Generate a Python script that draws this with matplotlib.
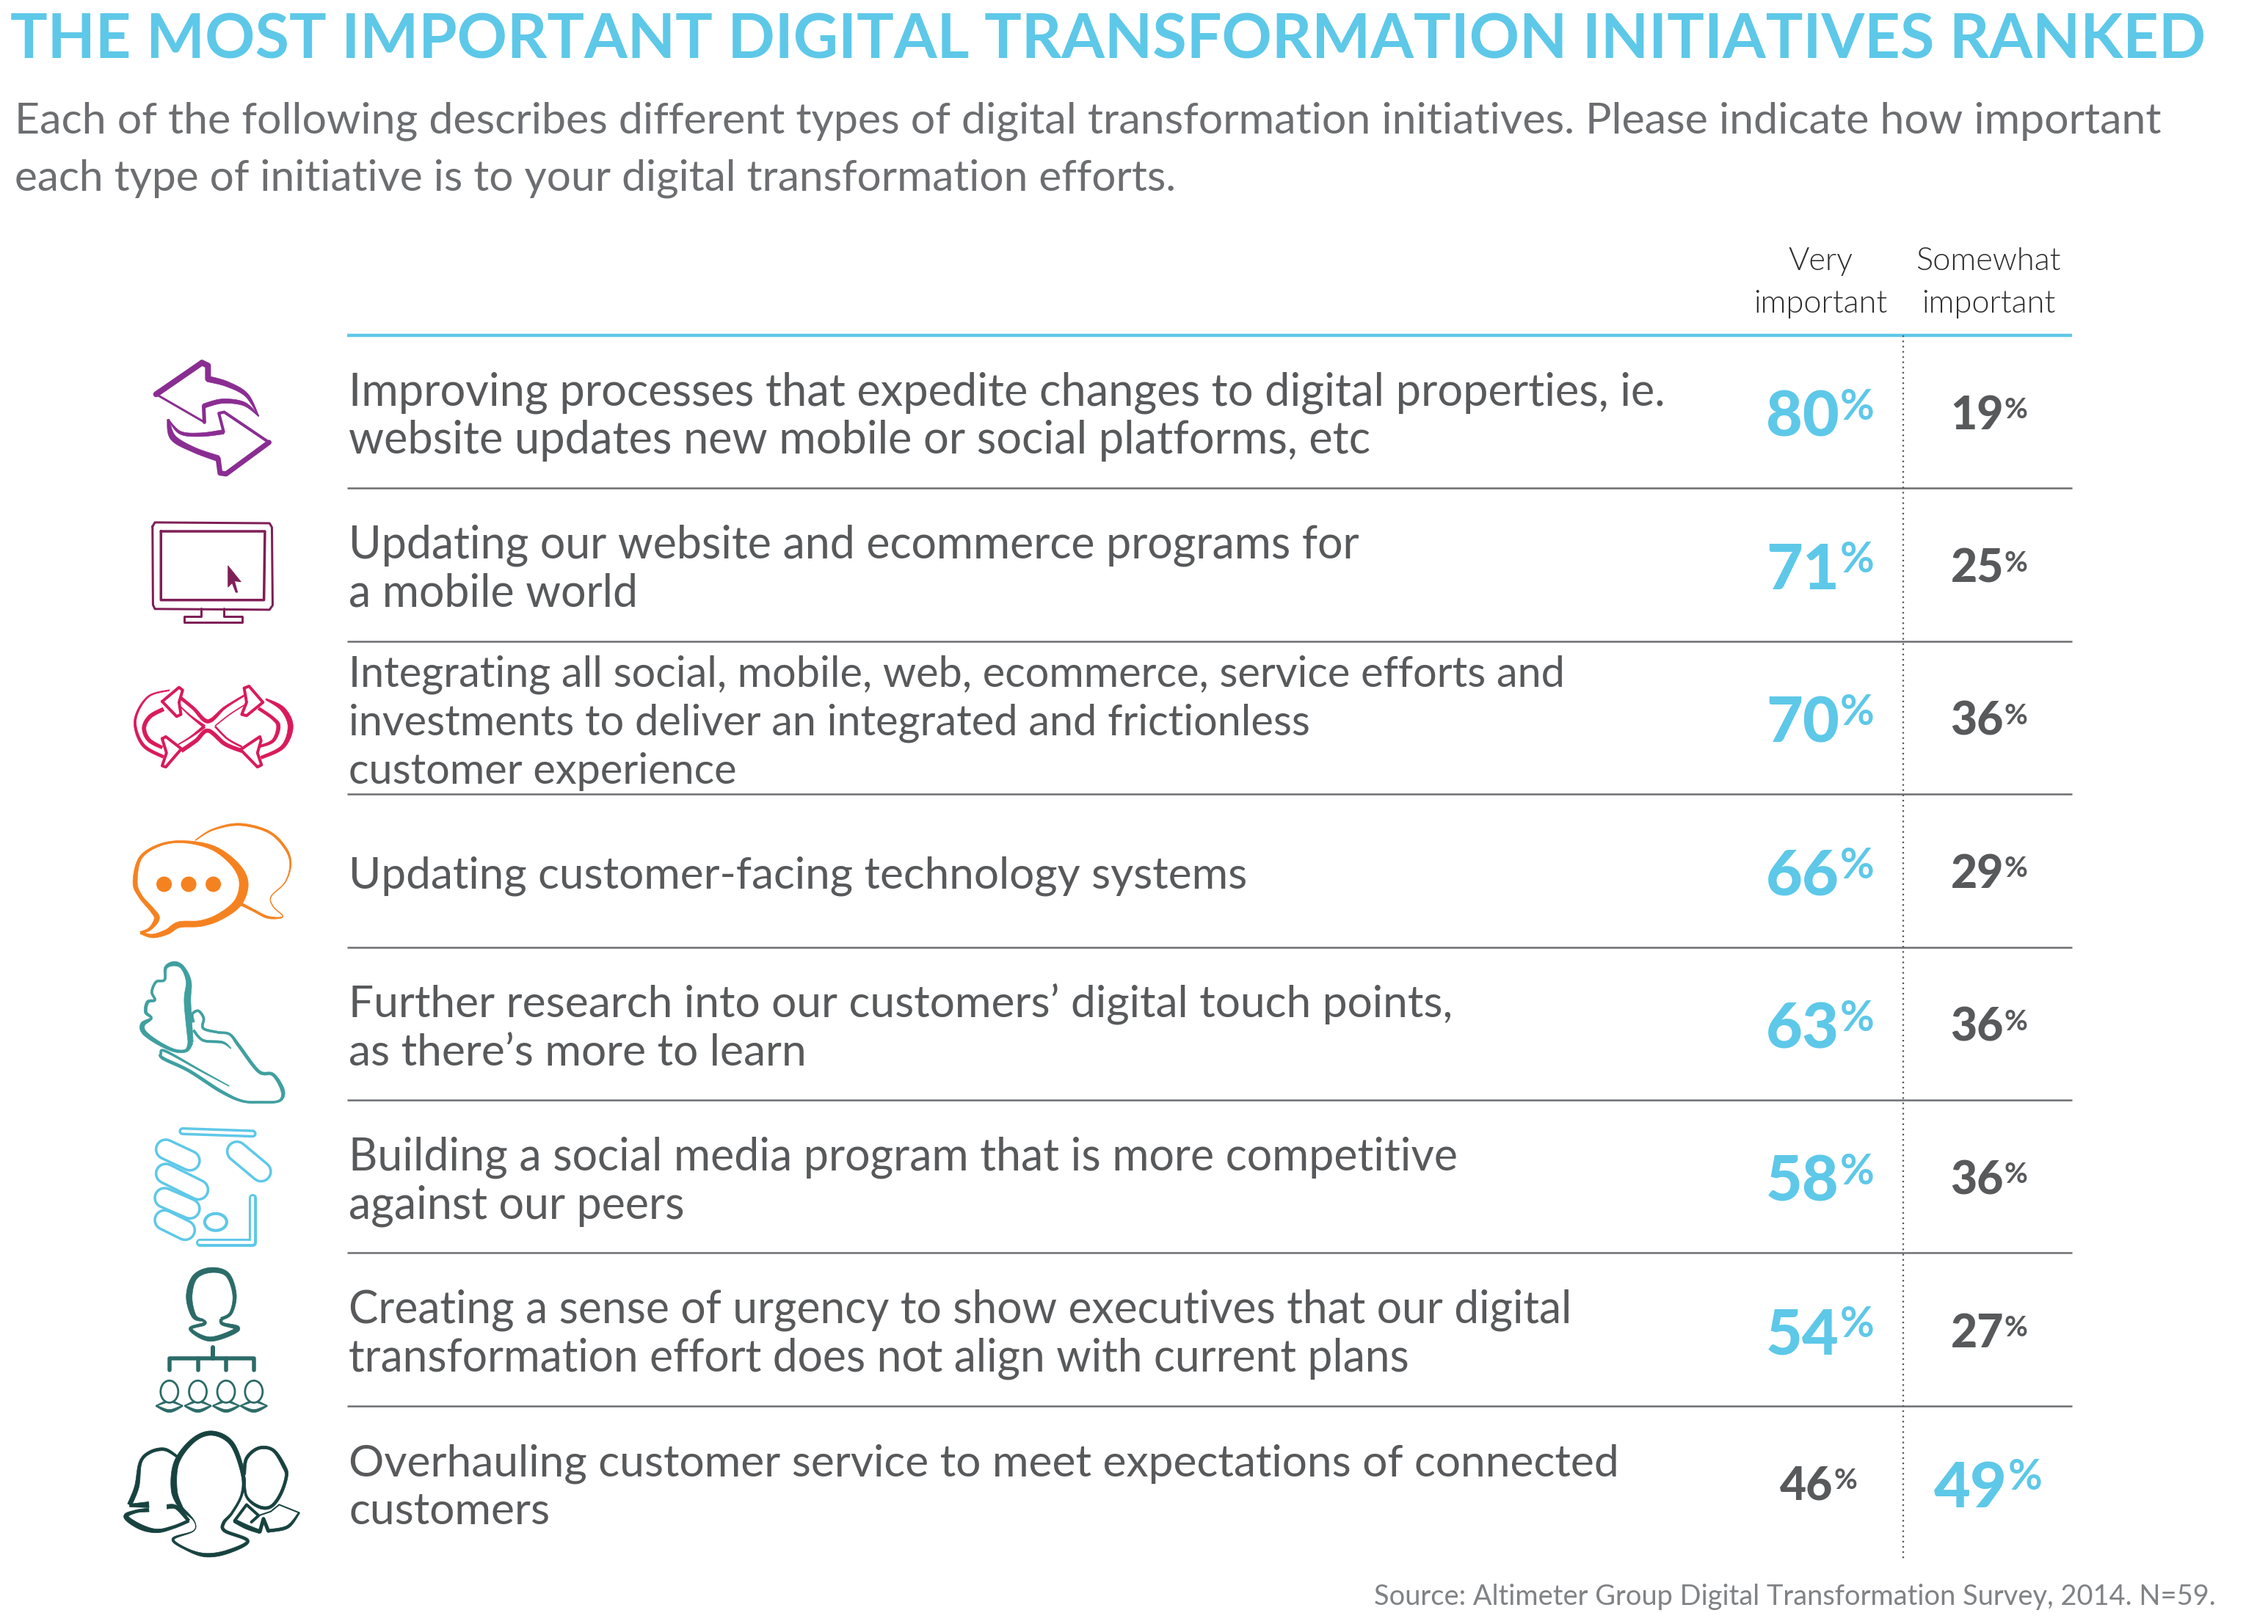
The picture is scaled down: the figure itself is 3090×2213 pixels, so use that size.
#!/usr/bin/env python3
#
# Ranked digital transformation initiatives, table style infographic
#

import numpy as np
import matplotlib
matplotlib.use('Agg')
import matplotlib.pyplot as plt
from matplotlib.patches import Ellipse, Polygon

TITLE = 'THE MOST IMPORTANT DIGITAL TRANSFORMATION INITIATIVES RANKED'
SUBTITLE = ['Each of the following describes different types of digital transformation initiatives. Please indicate how important',
            'each type of initiative is to your digital transformation efforts.']
SOURCE = 'Source: Altimeter Group Digital Transformation Survey, 2014. N=59.'
COLUMN_HEADS = [('Very', 'important'), ('Somewhat', 'important')]

initiatives = [
    ['Improving processes that expedite changes to digital properties, ie.',
     'website updates new mobile or social platforms, etc'],
    ['Updating our website and ecommerce programs for', 'a mobile world'],
    ['Integrating all social, mobile, web, ecommerce, service efforts and',
     'investments to deliver an integrated and frictionless', 'customer experience'],
    ['Updating customer-facing technology systems'],
    ['Further research into our customers’ digital touch points,', 'as there’s more to learn'],
    ['Building a social media program that is more competitive', 'against our peers'],
    ['Creating a sense of urgency to show executives that our digital',
     'transformation effort does not align with current plans'],
    ['Overhauling customer service to meet expectations of connected', 'customers'],
]
very_important = [80, 71, 70, 66, 63, 58, 54, 46]
somewhat_important = [19, 25, 36, 29, 36, 36, 27, 49]

BLUE = '#5ec8e8'
GREY = '#58595b'
FONT = 'Lato'
ROW_FONT_SIZES = [44.1, 43.8, 41.5, 43.4, 43.5, 43.8, 43.6, 43.5]

W, H = 3090, 2213
fig = plt.figure(figsize=(W / 100, H / 100), dpi=100, facecolor='white')
ax = fig.add_axes([0, 0, 1, 1])
ax.set_xlim(0, W)
ax.set_ylim(H, 0)
ax.axis('off')

ROW_TOP = 457
ROW_STEP = 208.4
LINE_X = (473, 2823)
DIVIDER_X = 2593


def brush(pts, color, fx, fy, closed=False):
    # smooth stroke with varying width, pts are (x, y, width) in crop coordinates
    p = np.array(pts, dtype=float)
    p[:, 0] = fx(p[:, 0])
    p[:, 1] = fy(p[:, 1])
    if closed:
        p = np.vstack([p[-1], p, p[0], p[1]])
    else:
        p = np.vstack([p[0], p, p[-1]])
    out = []
    for i in range(1, len(p) - 2):
        for t in np.linspace(0, 1, 12, endpoint=False):
            a, b, c, d = p[i - 1], p[i], p[i + 1], p[i + 2]
            out.append(0.5 * (2 * b + (c - a) * t + (2 * a - 5 * b + 4 * c - d) * t ** 2
                              + (3 * b - a - 3 * c + d) * t ** 3))
    out.append(p[-2])
    out = np.array(out)
    tang = np.gradient(out[:, :2], axis=0)
    tang /= np.maximum(np.linalg.norm(tang, axis=1, keepdims=True), 1e-6)
    norm = np.column_stack([-tang[:, 1], tang[:, 0]])
    w = np.maximum(out[:, 2], 0.6)[:, None] / 2
    poly = np.vstack([out[:, :2] + norm * w, (out[:, :2] - norm * w)[::-1]])
    ax.add_patch(Polygon(poly, closed=True, fc=color, ec=color, lw=0.5, zorder=3))


def polyline(pts, color, lw, fx, fy, closed=False):
    p = np.array(pts, dtype=float)
    xs, ys = fx(p[:, 0]), fy(p[:, 1])
    if closed:
        xs, ys = np.append(xs, xs[0]), np.append(ys, ys[0])
    ax.plot(xs, ys, color=color, lw=lw * 0.72, solid_joinstyle='round', solid_capstyle='round', zorder=3)


def pill(x0, y0, x1, y1, diam, wall, color, fx, fy):
    xs, ys = fx(np.array([x0, x1])), fy(np.array([y0, y1]))
    ax.plot(xs, ys, color=color, lw=diam * 0.72, solid_capstyle='round', zorder=3)
    ax.plot(xs, ys, color='white', lw=(diam - 2 * wall) * 0.72, solid_capstyle='round', zorder=3)


def top_fx(z):
    return 4 + 0.986 * (140 + z / 3)


def top_fy(z):
    return 0.986 * (465 + 0.5587 * z)


def bot_fy(z):
    return 0.986 * (1329 + 0.558 * z)


def draw_arrows():
    c = '#8a2d92'
    f = (top_fx, top_fy)
    polyline([(215, 143), (405, 65)], c, 8, *f)
    polyline([(405, 65), (430, 72), (430, 105)], c, 8, *f)
    brush([(430, 105, 8), (510, 118, 7), (590, 145, 5), (640, 197, 1)], c, *f)
    brush([(640, 197, 1), (580, 167, 5), (490, 160, 6), (412, 172, 6)], c, *f)
    polyline([(412, 172), (415, 212)], c, 5, *f)
    polyline([(415, 212), (215, 143)], c, 3, *f)
    polyline([(683, 262), (497, 187), (475, 190), (495, 236)], c, 4, *f)
    polyline([(683, 262), (505, 340), (480, 338), (472, 302)], c, 7, *f)
    brush([(495, 236, 6), (400, 243, 5), (315, 238, 4), (265, 205, 1)], c, *f)
    brush([(265, 205, 3), (285, 250, 8), (370, 280, 7), (472, 302, 8)], c, *f)


def draw_monitor():
    c = '#7f1f57'
    f = (top_fx, top_fy)
    polyline([(200, 470), (210, 460), (685, 462), (695, 472), (698, 665), (685, 676),
              (210, 674), (202, 664)], c, 3, *f, closed=True)
    polyline([(235, 482), (666, 482), (662, 652), (235, 652)], c, 3.5, *f, closed=True)
    polyline([(400, 672), (400, 692), (330, 692), (330, 707), (573, 707), (573, 692),
              (495, 692), (495, 672)], c, 3, *f)
    cursor = [(513, 567), (567, 607), (540, 605), (553, 633), (545, 633), (530, 610), (513, 620)]
    ax.add_patch(Polygon([(top_fx(x), top_fy(y)) for x, y in cursor], fc=c, ec=c, lw=0.5, zorder=3))


def draw_infinity():
    c = '#d91a5b'
    f = (top_fx, top_fy)
    brush([(270, 875, 1.5), (180, 892, 2), (128, 950, 3), (160, 1010, 4), (245, 1040, 4)], c, *f)
    brush([(245, 922, 5), (190, 940, 5), (165, 968, 5), (185, 998, 5), (240, 1017, 4)], c, *f)
    brush([(670, 897, 2), (740, 922, 6), (772, 965, 7), (740, 1015, 5), (650, 1042, 4)], c, *f)
    brush([(640, 920, 4), (700, 945, 4), (722, 965, 5), (700, 1000, 4), (640, 1015, 3)], c, *f)
    for head in ([(240, 903), (310, 868), (325, 875), (310, 905), (318, 935), (300, 940)],
                 [(240, 995), (255, 990), (320, 1020), (255, 1065), (240, 1062), (258, 1030)],
                 [(580, 870), (600, 865), (658, 905), (590, 938), (570, 935), (590, 905)],
                 [(565, 1022), (645, 990), (650, 1000), (635, 1030), (652, 1060), (635, 1065)]):
        polyline(head, c, 4, *f, closed=True)
    brush([(315, 893, 4), (370, 920, 4), (430, 952, 5), (500, 918, 3), (580, 888, 2)], c, *f)
    brush([(320, 1025, 5), (380, 1000, 5), (430, 975, 5), (500, 1008, 5), (570, 1025, 5)], c, *f)
    brush([(315, 915, 1), (360, 940, 2), (415, 965, 4)], c, *f)
    brush([(305, 1010, 1), (360, 990, 2), (415, 965, 4)], c, *f)
    brush([(460, 963, 1), (520, 935, 1), (580, 912, 1)], c, *f)
    brush([(460, 965, 2), (510, 995, 2), (570, 1015, 2)], c, *f)


def draw_chat():
    c = '#f58220'
    f = (top_fx, top_fy)
    brush([(150, 1475, 3), (190, 1465, 4), (218, 1440, 7), (200, 1420, 6), (150, 1385, 5), (128, 1350, 6),
           (150, 1290, 4), (230, 1258, 3), (330, 1250, 3), (450, 1265, 6), (540, 1305, 9), (578, 1350, 12),
           (555, 1400, 11), (480, 1435, 9), (400, 1452, 8), (310, 1455, 8), (260, 1473, 7), (200, 1483, 5),
           (150, 1475, 3)], c, *f)
    brush([(378, 1246, 1), (450, 1220, 2), (560, 1207, 3), (680, 1225, 3), (750, 1265, 3), (772, 1305, 2),
           (750, 1350, 1), (692, 1385, 0.8), (700, 1410, 0.8), (740, 1435, 1), (680, 1437, 3), (620, 1420, 3),
           (555, 1400, 4)], c, *f)
    for zx in (248, 350, 452):
        ax.add_patch(Ellipse((top_fx(zx), top_fy(1355)), 21, 21, fc=c, ec='none', zorder=3))


def draw_hand():
    c = '#3f9f9f'
    f = (top_fx, bot_fy)
    brush([(358, 200, 7), (345, 100, 9), (350, 50, 7), (325, 15, 5), (290, 5, 6), (255, 15, 4), (250, 45, 3),
           (215, 50, 3), (197, 75, 3), (210, 95, 3), (180, 100, 4), (172, 125, 4), (195, 140, 3), (160, 155, 6),
           (165, 175, 6), (220, 200, 5), (290, 220, 4), (340, 220, 4), (358, 200, 7)], c, *f)
    brush([(370, 150, 3), (365, 130, 3), (390, 122, 3), (412, 140, 3), (410, 165, 3), (470, 175, 3), (520, 180, 3),
           (560, 210, 4), (640, 272, 4), (700, 280, 4), (740, 320, 5), (725, 345, 3), (650, 348, 3), (570, 345, 3),
           (480, 320, 4), (350, 270, 4), (245, 240, 4), (235, 228, 3), (255, 222, 3), (400, 270, 2), (517, 308, 1)], c, *f)
    brush([(370, 170, 3), (410, 195, 3), (490, 200, 3), (525, 215, 1)], c, *f)


def draw_social_hand():
    c = BLUE
    g = (top_fx, bot_fy)
    pill(325, 420, 615, 426, 11, 3.5, c, *g)
    pill(255, 465, 355, 493, 30, 3.5, c, *g)
    pill(255, 525, 390, 565, 30, 3.5, c, *g)
    pill(250, 585, 355, 612, 30, 3.5, c, *g)
    pill(250, 640, 335, 665, 30, 3.5, c, *g)
    pill(550, 470, 650, 520, 30, 3.5, c, *g)
    ax.add_patch(Ellipse((top_fx(462), bot_fy(645)), 30, 23, fc='white', ec=c, lw=3, zorder=3))
    xs, ys = top_fx(np.array([615, 615, 395])), bot_fy(np.array([585, 695, 695]))
    ax.plot(xs, ys, color=c, lw=8, solid_capstyle='round', solid_joinstyle='round', zorder=3)
    ax.plot(xs, ys, color='white', lw=3, solid_capstyle='round', solid_joinstyle='round', zorder=3)


def draw_org():
    c = '#2b6b68'
    f = (top_fx, bot_fy)
    brush([(410, 888, 3), (372, 878, 6), (352, 830, 8), (375, 782, 7), (440, 764, 7), (510, 775, 6), (540, 825, 5),
           (525, 870, 4), (485, 885, 4)], c, *f)
    brush([(410, 888, 3), (415, 897, 4), (357, 910, 4), (440, 935, 6), (553, 910, 6), (490, 897, 4), (485, 885, 4)], c, *f)
    polyline([(450, 955), (450, 982)], c, 6, *f)
    polyline([(272, 1012), (272, 982), (620, 982), (620, 1012)], c, 5.5, *f)
    polyline([(388, 982), (388, 1012)], c, 5.5, *f)
    polyline([(505, 982), (505, 1012)], c, 5.5, *f)
    for cx in (270, 388, 505, 620):
        ax.add_patch(Ellipse((top_fx(cx), bot_fy(1065)), 24, 30, fc='white', ec=c, lw=2, zorder=3))
        brush([(cx - 55, 1100, 2), (cx, 1113, 4), (cx + 55, 1100, 2)], c, *f)
        brush([(cx - 55, 1100, 1), (cx - 15, 1090, 3)], c, *f)
        brush([(cx + 55, 1100, 1), (cx + 15, 1090, 3)], c, *f)


def draw_team():
    c = '#17423f'
    f = (top_fx, bot_fy)
    brush([(320, 1355, 5), (290, 1310, 8), (300, 1240, 7), (370, 1185, 6), (450, 1168, 6), (530, 1195, 6),
           (575, 1270, 5), (570, 1320, 3), (530, 1365, 3), (495, 1390, 4), (500, 1410, 4), (595, 1435, 4),
           (510, 1462, 5), (420, 1470, 5), (340, 1455, 3), (285, 1430, 3), (370, 1410, 1), (372, 1385, 1),
           (320, 1355, 5)], c, *f)
    brush([(300, 1225, 3), (250, 1208, 4), (190, 1215, 4), (150, 1240, 4), (135, 1300, 6), (105, 1345, 6)], c, *f)
    brush([(105, 1347, 4), (185, 1345, 8)], c, *f)
    brush([(185, 1358, 5), (130, 1362, 4), (90, 1375, 6), (150, 1400, 7), (220, 1410, 5), (290, 1400, 4), (350, 1385, 4)], c, *f)
    brush([(260, 1350, 6), (300, 1352, 5), (350, 1385, 4)], c, *f)
    brush([(580, 1270, 4), (590, 1230, 4), (640, 1205, 4), (700, 1210, 4), (745, 1250, 5), (755, 1275, 4),
           (730, 1320, 4), (690, 1350, 4), (640, 1350, 4), (590, 1325, 3), (580, 1280, 3)], c, *f)
    polyline([(540, 1385), (590, 1345), (640, 1372), (610, 1388)], c, 4, *f)
    brush([(540, 1385, 5), (590, 1400, 6), (645, 1412, 5)], c, *f)
    polyline([(645, 1412), (660, 1380), (680, 1410)], c, 5, *f)
    brush([(680, 1410, 4), (760, 1400, 4), (808, 1365, 2)], c, *f)
    polyline([(808, 1365), (725, 1345), (690, 1362), (640, 1372)], c, 2, *f)


def pct(x, y, value, big, color):
    # digits right aligned at x, the percent sign sits raised next to them
    if big:
        size, sign, rise = 62, 41, 23
    else:
        size, sign, rise = 45, 28, 15
    ax.text(x, y, str(value), family=FONT, weight='black', fontsize=size, color=color, ha='right', va='baseline')
    ax.text(x + 1, y - rise, '%', family=FONT, fontsize=sign, weight='bold', color=color, ha='left', va='baseline')


# header
ax.text(14, 80, TITLE, family=FONT, weight='bold', fontsize=60.9, color=BLUE, va='baseline')
ax.text(20, 181, SUBTITLE[0], family=FONT, fontsize=42.5, color='#6d6e71', va='baseline')
ax.text(20, 260, SUBTITLE[1], family=FONT, fontsize=42.2, color='#6d6e71', va='baseline')

for cx, head in zip((2480, 2709), COLUMN_HEADS):
    ax.text(cx, 368, head[0], family=FONT, weight=300, fontsize=31.2, color='#2f2f31', ha='center', va='baseline')
    ax.text(cx, 426, head[1], family=FONT, weight=300, fontsize=31.2, color='#2f2f31', ha='center', va='baseline')

# table lines
ax.plot(LINE_X, [ROW_TOP, ROW_TOP], color=BLUE, lw=3.2, solid_capstyle='butt', zorder=2)
for i in range(1, len(initiatives)):
    y = ROW_TOP + i * ROW_STEP
    ax.plot(LINE_X, [y, y], color='#6d6e71', lw=1.8, solid_capstyle='butt', zorder=2)
ax.plot([DIVIDER_X, DIVIDER_X], [ROW_TOP, ROW_TOP + len(initiatives) * ROW_STEP], color=GREY, lw=1.6,
        linestyle=(0, (1, 2.2)), zorder=2)

# rows
for i, lines in enumerate(initiatives):
    centre = ROW_TOP + (i + 0.5) * ROW_STEP
    for j, line in enumerate(lines):
        y = centre + 24 + 66 * (j - (len(lines) - 1) / 2)
        ax.text(475, y, line, family=FONT, fontsize=ROW_FONT_SIZES[i], color='#58595b', va='baseline')
    first_big = very_important[i] > somewhat_important[i]
    if first_big:
        pct(2506, centre + 33.5, very_important[i], True, BLUE)
        pct(2730, centre + 24, somewhat_important[i], False, GREY)
    else:
        pct(2497, centre + 24, very_important[i], False, GREY)
        pct(2735, centre + 33.5, somewhat_important[i], True, BLUE)

draw_arrows()
draw_monitor()
draw_infinity()
draw_chat()
draw_hand()
draw_social_hand()
draw_org()
draw_team()

ax.text(3019, 2187, SOURCE, family=FONT, fontsize=27.4, color='#808285', ha='right', va='baseline')

plt.savefig('out.png', dpi=100, facecolor='white')
